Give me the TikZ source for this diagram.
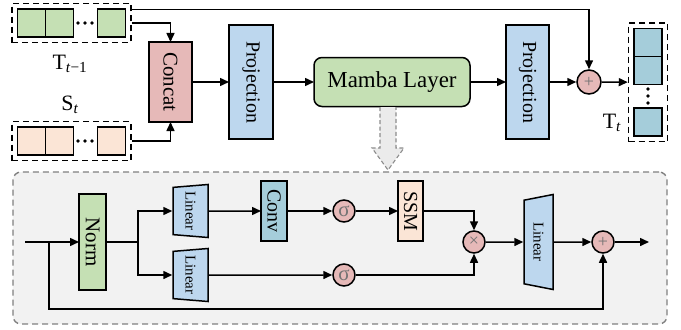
\documentclass[tikz,border=0pt]{standalone}
\usepackage{fontspec}
\setmainfont{Liberation Serif}
\usetikzlibrary{shapes.geometric,arrows.meta,positioning,calc,fit}

\definecolor{mgreen}{HTML}{C5E0B4}
\definecolor{mblue}{HTML}{BDD7EE}
\definecolor{mpink}{HTML}{E6B9B8}
\definecolor{mpeach}{HTML}{FBE5D6}
\definecolor{mteal}{HTML}{A5CDDA}

\begin{document}
\begin{tikzpicture}[
    x=1bp, y=1bp,
    block/.style={
        draw=black, line width=1.5bp,
        inner sep=0pt, outer sep=0pt,
        font=\fontsize{20}{24}\selectfont
    },
    vblock/.style={block, rotate=-90},
    cell/.style={
        draw=black, line width=1.5bp,
        minimum width=28bp, minimum height=28bp,
        inner sep=0pt, outer sep=0pt
    },
    group/.style={draw=black, line width=1.5bp, dash pattern=on 6bp off 4bp, inner sep=5.5bp},
    linear/.style={
        trapezium, draw=black, line width=1.5bp, fill=mblue,
        rotate=-90, shape border rotate=180,
        trapezium stretches body,
        inner xsep=-4bp, inner ysep=0pt,
        font=\fontsize{15}{16}\selectfont
    },
    op/.style={
        circle, draw=black, fill=mpink, line width=1.5bp,
        minimum size=22bp, inner sep=0pt,
        text=black!55, font=\fontsize{18}{20}\selectfont
    },
    seqlabel/.style={font=\fontsize{22}{24}\selectfont},
    dot/.style={circle, fill=black, minimum size=3.8bp, inner sep=0pt},
    flow/.style={-{Triangle[length=9bp,width=8bp]}, line width=1.5bp},
    link/.style={line width=1.5bp}
]
\useasboundingbox (0,0) rectangle (681,329);

% previous trajectory tokens
\node[cell, fill=mgreen] (tc1) at (31.5,306) {};
\node[cell, fill=mgreen, right=0pt of tc1] (tc2) {};
\node[cell, fill=mgreen] (tc3) at (111.5,306) {};
\foreach \i in {0,1,2}
    \node[dot] (tdot\i) at (78+7*\i,306) {};
\node[group, fit=(tc1)(tc3)] (tprev) {};
\node[seqlabel] (tprevlbl) at (70,265) {T\textsubscript{\textit{t}−1}};
\coordinate (skip) at ($(tprev.north east)+(0,-7)$);

% current state tokens
\node[cell, fill=mpeach] (sc1) at (31.5,188) {};
\node[cell, fill=mpeach, right=0pt of sc1] (sc2) {};
\node[cell, fill=mpeach] (sc3) at (111.5,188) {};
\foreach \i in {0,1,2}
    \node[dot] (sdot\i) at (78+7*\i,188) {};
\node[group, fit=(sc1)(sc3)] (sin) {};
\node[seqlabel] (sinlbl) at (70,224) {S\textsubscript{\textit{t}}};

% main row
\node[vblock, fill=mpink, minimum width=80bp, minimum height=43bp, font=\fontsize{21}{24}\selectfont] (concat) at (170.5,247) {Concat};
\node[vblock, fill=mblue, minimum width=114bp, minimum height=44bp] (proj1) at (251,247) {Projection};
\node[block, fill=mgreen, rounded corners=8bp, minimum width=156bp, minimum height=49bp, font=\fontsize{23}{26}\selectfont] (mamba) at (392,247) {Mamba Layer};
\node[vblock, fill=mblue, minimum width=114bp, minimum height=43bp] (proj2) at (527.5,247) {Projection};
\node[op, minimum size=24bp] (addtop) at (589,247) {+};

% next trajectory tokens
\node[cell, fill=mteal] (nc1) at (648,286.5) {};
\node[cell, fill=mteal, below=0pt of nc1] (nc2) {};
\node[cell, fill=mteal] (nc3) at (648,207) {};
\foreach \i in {0,1,2}
    \node[dot] (ndot\i) at (648,240-7*\i) {};
\node[group, fit=(nc1)(nc3)] (tnext) {};
\node[seqlabel] (tnextlbl) at (612,206) {T\textsubscript{\textit{t}}};

\draw[flow] (tprev.east) -| (concat);
\draw[flow] (sin.east) -| (concat);
\draw[flow] (concat) -- (proj1);
\draw[flow] (proj1) -- (mamba);
\draw[flow] (mamba) -- (proj2);
\draw[flow] (proj2) -- (addtop);
\draw[flow] (skip) -| (addtop);
\draw[flow] (addtop) -- (tnext);

% inside the mamba layer
\node[draw=black!50, dash pattern=on 6bp off 4bp, fill=black!5, rounded corners=8bp, line width=1.4bp,
      minimum width=654bp, minimum height=152bp] (mambablock) at (340,81) {};
\draw[draw=black!45, dash pattern=on 4bp off 2.5bp, fill=black!8, line width=1.1bp]
    (380,222) -- (380,181) -- (372,181) -- (388,159) -- (404,181) -- (396,181) -- (396,222);

\coordinate (in) at (25,87);
\coordinate (res) at (49,87);
\node[vblock, fill=mgreen, minimum width=96bp, minimum height=27bp, font=\fontsize{21}{24}\selectfont] (norm) at (92.5,87) {Norm};
\coordinate (split) at (138,87);
\node[linear, minimum width=53bp, minimum height=35bp, trapezium angle=74] (lin1) at (190.5,118) {Linear};
\node[linear, minimum width=53bp, minimum height=35bp, trapezium angle=74] (lin2) at (190.5,54) {Linear};
\node[vblock, fill=mteal, minimum width=60bp, minimum height=26bp] (conv) at (274,118) {Conv};
\node[op, font=\fontsize{21}{22}\selectfont] (sig1) at (344,118) {σ};
\node[op, font=\fontsize{21}{22}\selectfont] (sig2) at (344,54) {σ};
\node[vblock, fill=mpeach, minimum width=60bp, minimum height=25bp] (ssm) at (410.5,118) {SSM};
\node[op] (mul) at (474,87) {×};
\node[linear, minimum width=95bp, minimum height=29bp, trapezium angle=60.4] (lin3) at (538.5,87) {Linear};
\node[op] (addbot) at (603,87) {+};
\coordinate (out) at (649,87);

\draw[flow] (in) -- (norm);
\draw[flow] (res) -- ++(0,-67) -| (addbot);
\draw[link] (norm) -- (split);
\draw[flow] (split) |- (lin1);
\draw[flow] (split) |- (lin2);
\draw[flow] (lin1) -- (conv);
\draw[flow] (conv) -- (sig1);
\draw[flow] (sig1) -- (ssm);
\draw[flow] (ssm) -| (mul);
\draw[flow] (lin2) -- (sig2);
\draw[flow] (sig2) -| (mul);
\draw[flow] (mul) -- (lin3);
\draw[flow] (lin3) -- (addbot);
\draw[flow] (addbot) -- (out);

\end{tikzpicture}
\end{document}
